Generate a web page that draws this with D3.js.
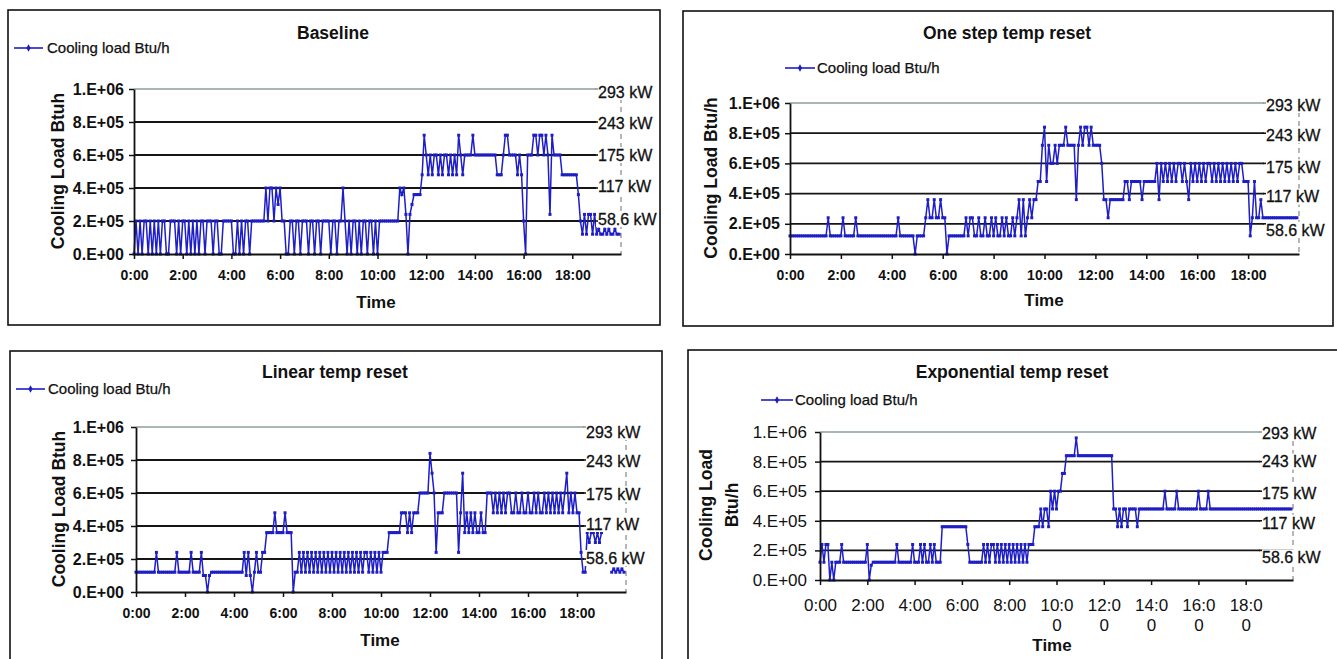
<!DOCTYPE html>
<html><head><meta charset="utf-8">
<script src="https://cdn.jsdelivr.net/npm/d3@7"></script>
<style>
body{margin:0;background:#fff}
svg{display:block}
text{font-family:"Liberation Sans",Arial,sans-serif;fill:#111}
</style></head><body>
<svg id="chart" width="1337" height="659"></svg>
<script>
// ---------------- data ----------------
const titles = ["Baseline","One step temp reset","Linear temp reset","Exponential temp reset"];
const seriesName = "Cooling load Btu/h";
const xAxisTitle = "Time";
const timeTicks = [0,2,4,6,8,10,12,14,16,18];              // hours
const timeLabels = ["0:00","2:00","4:00","6:00","8:00","10:00","12:00","14:00","16:00","18:00"];
const yTickValues = [0,200000,400000,600000,800000,1000000];
const yTickLabels = ["0.E+00","2.E+05","4.E+05","6.E+05","8.E+05","1.E+06"];
const kwValues = [200000,400000,600000,800000,1000000];
const kwLabels = ["58.6 kW","117 kW","175 kW","243 kW","293 kW"];
const sampleMinutes = 5;   // one value every 5 minutes, values in kBtu/h

const baseline = [
 0,200,0,200,0,200,200,0,200,0,200,0,
 200,0,200,200,0,0,200,200,200,0,200,0,
 200,200,0,200,0,200,0,200,0,200,200,0,
 200,200,200,0,200,200,0,0,200,200,200,200,
 200,0,0,200,0,200,0,200,200,0,200,200,
 200,200,200,200,200,400,200,400,400,200,400,300,
 400,200,200,0,0,200,200,0,200,200,0,200,
 200,200,0,200,200,0,200,200,0,200,200,200,
 200,0,200,200,0,200,200,400,200,0,200,0,
 200,200,0,200,0,200,200,0,200,200,0,200,
 0,200,200,200,200,200,200,200,200,200,200,400,
 360,400,240,0,240,300,360,360,360,360,480,720,
 600,480,600,480,600,600,480,600,480,600,600,480,
 600,480,600,480,720,600,480,600,600,600,600,720,
 600,600,600,600,600,600,600,600,600,600,600,480,
 480,480,600,720,720,600,600,600,600,480,600,480,
 200,0,600,600,600,720,720,600,720,720,600,720,
 600,240,720,600,600,600,600,480,480,480,480,480,
 480,480,480,360,200,120,240,120,240,240,120,240,
 120,150,120,120,150,120,150,120,120,150,120,120
];
const oneStep = [
 120,120,120,120,120,120,120,120,120,120,120,120,
 120,120,120,120,120,120,240,120,120,120,120,120,
 120,240,120,120,120,120,120,240,120,120,120,120,
 120,120,120,120,120,120,120,120,120,120,120,120,
 120,120,120,240,120,120,120,120,120,120,120,0,
 120,120,120,120,240,360,240,240,360,240,240,360,
 240,240,0,120,120,120,120,120,120,120,120,240,
 120,240,240,120,120,240,120,120,240,120,120,240,
 120,240,120,120,240,120,240,120,120,240,120,240,
 360,120,360,120,240,360,240,360,360,480,480,720,
 840,480,720,600,600,720,600,720,720,720,840,720,
 720,720,720,360,720,840,720,840,840,720,840,720,
 720,720,720,600,360,360,240,360,360,360,360,360,
 360,360,480,480,360,480,480,480,480,480,360,480,
 480,480,480,480,480,600,360,600,480,600,480,600,
 480,600,480,600,600,480,600,480,360,600,480,600,
 480,600,480,600,480,600,600,480,600,480,600,480,
 600,480,600,480,600,480,600,480,600,600,480,480,
 480,120,240,480,240,240,360,240,240,240,240,240,
 240,240,240,240,240,240,240,240,240,240,240,240
];
const linear = [
 120,120,120,120,120,120,120,120,120,120,240,120,
 120,120,120,120,120,120,120,120,240,120,120,120,
 120,120,120,240,120,120,120,120,240,100,100,0,
 100,120,120,120,120,120,120,120,120,120,120,120,
 120,120,120,120,120,240,100,240,100,0,120,240,
 120,120,240,240,360,360,360,360,480,360,360,360,
 360,480,360,360,360,0,120,120,240,120,240,120,
 240,120,240,120,240,120,240,120,240,120,240,120,
 240,120,240,120,240,120,240,120,240,120,240,120,
 240,120,240,120,240,240,120,240,120,240,120,240,
 120,240,240,240,360,360,360,360,360,360,480,480,
 480,360,480,360,480,480,480,600,600,600,600,600,
 840,720,600,240,480,480,480,600,600,600,600,600,
 600,600,240,480,720,360,480,360,480,360,480,360,
 360,480,360,360,600,600,600,480,600,480,600,480,
 600,480,600,600,480,480,600,480,480,600,480,480,
 600,480,480,600,480,600,480,480,600,480,600,480,
 600,480,600,480,600,480,600,720,480,600,480,600,
 480,480,240,120,120,360,300,360,360,300,360,300,
 360,null,null,null,null,120,140,120,140,120,140,120
];
const exponential = [
 120,240,120,240,240,0,120,0,120,120,120,240,
 120,120,120,120,120,120,120,120,120,120,120,120,
 240,0,100,120,120,120,120,120,120,120,120,120,
 120,120,120,240,120,120,120,120,120,120,120,240,
 120,120,120,240,120,240,120,120,240,120,240,120,
 120,120,360,360,360,360,360,360,360,360,360,360,
 360,360,360,240,120,120,120,120,120,120,120,240,
 120,240,120,240,240,120,240,120,240,120,240,120,
 240,120,240,120,240,120,240,120,240,120,240,240,
 240,360,360,360,480,360,480,480,360,600,480,600,
 480,600,600,720,720,840,840,840,840,840,960,840,
 840,840,840,840,840,840,840,840,840,840,840,840,
 840,840,840,840,840,480,480,360,480,360,480,480,
 360,480,480,480,480,360,480,480,480,480,480,480,
 480,480,480,480,480,480,480,600,480,480,480,480,
 480,600,480,480,480,480,480,480,480,480,480,480,
 600,480,480,480,480,600,480,480,480,480,480,480,
 480,480,480,480,480,480,480,480,480,480,480,480,
 480,480,480,480,480,480,480,480,480,480,480,480,
 480,480,480,480,480,480,480,480,480,480,480,480
];
const yTitles = [["Cooling Load Btuh"],["Cooling Load Btu/h"],["Cooling Load Btuh"],["Cooling Load","Btu/h"]];

// ---------------- layout ----------------
const BLUE = "#1e1ec6";
const panels = [
 {data:baseline, title:titles[0], yTitle:yTitles[0], frame:[8,10,660,325], titleXY:[333,39],
  leg:{x1:14,x2:43,y:48,tx:47}, plot:{l:134,r:621,t:89,b:254}, kwX:598, kwShift:[-2,-2,0,1,3],
  yTitleX:[58], yTitleY:171, timeXY:[376,308], xFont:14, yFont:16, tickBold:true, xPad:11, yPad:5, wrap:false},
 {data:oneStep, title:titles[1], yTitle:yTitles[1], frame:[683,11,1333,326], titleXY:[1007,39],
  leg:{x1:785,x2:815,y:68,tx:817}, plot:{l:790,r:1299,t:103,b:254}, kwX:1266, kwShift:[6,3,4,2,2],
  yTitleX:[711], yTitleY:178, timeXY:[1044,306], xFont:14, yFont:16, tickBold:true, xPad:11, yPad:5, wrap:false},
 {data:linear, title:titles[2], yTitle:yTitles[2], frame:[10,351,662,680], titleXY:[335,378],
  leg:{x1:16,x2:45,y:389,tx:48}, plot:{l:136,r:626,t:427,b:592}, kwX:586, kwShift:[-1,-2,1,1,5],
  yTitleX:[59], yTitleY:509, timeXY:[380,646], xFont:14, yFont:16, tickBold:true, xPad:11, yPad:7, wrap:false},
 {data:exponential, title:titles[3], yTitle:yTitles[3], frame:[688,350,1350,680], titleXY:[1012,378],
  leg:{x1:761,x2:793,y:400,tx:795}, plot:{l:820,r:1293,t:432,b:580}, kwX:1262, kwShift:[7,2,2,0,1],
  yTitleX:[706,732], yTitleY:505, timeXY:[1052,651], xFont:17, yFont:17, tickBold:false, xPad:14, yPad:8, wrap:true}
];

const svg = d3.select("#chart");
const FONT = '"Liberation Sans",Arial,sans-serif';

panels.forEach(p => {
  const g = svg.append("g");
  g.append("rect").attr("x",p.frame[0]).attr("y",p.frame[1])
    .attr("width",p.frame[2]-p.frame[0]).attr("height",p.frame[3]-p.frame[1])
    .attr("fill","#fff").attr("stroke","#111").attr("stroke-width",1.6);

  const x = d3.scaleLinear().domain([0,20]).range([p.plot.l,p.plot.r]);
  const y = d3.scaleLinear().domain([0,1000000]).range([p.plot.b,p.plot.t]);

  // gridlines
  g.selectAll(".grid").data(yTickValues.slice(1)).join("line")
    .attr("x1",p.plot.l).attr("x2",p.plot.r)
    .attr("y1",d=>y(d)).attr("y2",d=>y(d))
    .attr("stroke",d=>d===1000000?"#8e9e9e":"#151515")
    .attr("stroke-width",d=>d===1000000?1.3:1.8);

  // secondary (kW) axis line, dashed
  g.append("line").attr("x1",p.plot.r).attr("x2",p.plot.r)
    .attr("y1",y(1000000)).attr("y2",y(0))
    .attr("stroke","#888").attr("stroke-width",1.2).attr("stroke-dasharray","5,4");

  // series
  const pts = p.data.map((v,i)=>({t:i*sampleMinutes/60, v:v}));
  const line = d3.line().defined(d=>d.v!==null).x(d=>x(d.t)).y(d=>y(d.v*1000));
  g.append("path").datum(pts).attr("d",line)
    .attr("fill","none").attr("stroke",BLUE).attr("stroke-width",1.5);
  g.selectAll(".mk").data(pts.filter(d=>d.v!==null)).join("rect")
    .attr("x",d=>x(d.t)-1.5).attr("y",d=>y(d.v*1000)-1.5)
    .attr("width",3).attr("height",3).attr("fill",BLUE);

  // axes
  const yAxis = d3.axisLeft(y).tickValues(yTickValues)
    .tickFormat((d,i)=>yTickLabels[i]).tickSize(5).tickSizeOuter(0).tickPadding(p.yPad);
  const ya = g.append("g").attr("transform",`translate(${p.plot.l},0)`).call(yAxis);
  ya.selectAll("text").style("font-size",p.yFont+"px").style("font-family",FONT)
    .style("font-weight",p.tickBold?"bold":"normal").attr("fill","#111");

  const xAxis = d3.axisBottom(x).tickValues(timeTicks)
    .tickFormat((d,i)=>timeLabels[i]).tickSize(5).tickSizeOuter(0).tickPadding(p.xPad);
  const xa = g.append("g").attr("transform",`translate(0,${p.plot.b})`).call(xAxis);
  xa.selectAll("text").style("font-size",p.xFont+"px").style("font-family",FONT)
    .style("font-weight",p.tickBold?"bold":"normal").attr("fill","#111");
  if (p.wrap) {
    xa.selectAll(".tick text").each(function(d,i){
      const s = timeLabels[i];
      if (s.length > 4) {
        const t = d3.select(this); t.text(null);
        t.append("tspan").attr("x",0).text(s.slice(0,4));
        t.append("tspan").attr("x",0).attr("dy","1.2em").text(s.slice(4));
      }
    });
  }
  [ya,xa].forEach(a=>{
    a.selectAll("line").attr("stroke","#111").attr("stroke-width",1.5);
    a.select(".domain").attr("stroke","#111").attr("stroke-width",1.8);
  });

  // kW labels with white boxes
  kwValues.forEach((v,i)=>{
    const cy = y(v) + p.kwShift[i];
    const lg = g.append("g");
    const r = lg.append("rect").attr("fill","#fff");
    const t = lg.append("text").attr("x",p.kwX).attr("y",cy).attr("dy","0.36em")
      .style("font-size","16px").style("stroke","#111").style("stroke-width","0.3px").text(kwLabels[i]);
    const w = t.node().getComputedTextLength();
    r.attr("x",p.kwX-2).attr("y",cy-8).attr("width",w+3).attr("height",16);
    lg.append("line").attr("x1",p.kwX-3).attr("x2",p.kwX).attr("y1",y(v)).attr("y2",y(v))
      .attr("stroke",v===1000000?"#8e9e9e":"#151515").attr("stroke-width",1.6);
  });

  // title
  g.append("text").attr("x",p.titleXY[0]).attr("y",p.titleXY[1])
    .attr("text-anchor","middle").style("font-size","17.5px").style("font-weight","bold").text(p.title);

  // legend
  g.append("line").attr("x1",p.leg.x1).attr("x2",p.leg.x2).attr("y1",p.leg.y).attr("y2",p.leg.y)
    .attr("stroke",BLUE).attr("stroke-width",1.6);
  g.append("path").attr("d",d3.symbol(d3.symbolDiamond,16)())
    .attr("transform",`translate(${(p.leg.x1+p.leg.x2)/2},${p.leg.y})`).attr("fill",BLUE);
  g.append("text").attr("x",p.leg.tx).attr("y",p.leg.y).attr("dy","0.36em")
    .style("font-size","15px").style("stroke","#111").style("stroke-width","0.25px").text(seriesName);

  // axis titles
  g.append("text").attr("x",p.timeXY[0]).attr("y",p.timeXY[1]).attr("text-anchor","middle")
    .style("font-size","17px").style("font-weight","bold").text(xAxisTitle);
  p.yTitle.forEach((s,i)=>{
    g.append("text").attr("transform",`translate(${p.yTitleX[i]},${p.yTitleY}) rotate(-90)`)
      .attr("text-anchor","middle").attr("dy","0.36em")
      .style("font-size","17.5px").style("font-weight","bold").text(s);
  });
});
</script>
</body></html>
